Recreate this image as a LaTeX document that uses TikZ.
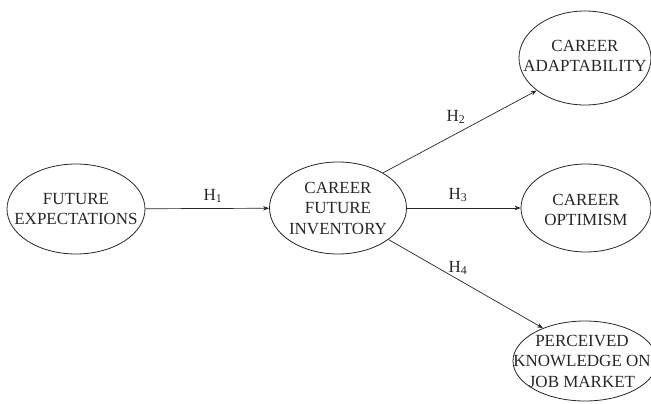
\documentclass[tikz,border=0pt]{standalone}
\usepackage{fontspec}
\setmainfont{Liberation Serif}
\usetikzlibrary{shapes.geometric,arrows.meta}
\begin{document}
\begin{tikzpicture}[x=1pt,y=-1pt,
  ell/.style={draw=black!85, ellipse, inner sep=0pt, line width=0.8pt},
  txt/.style={align=center, inner sep=0pt, font=\fontsize{17}{20.5}\selectfont, text=black!85},
  arr/.style={-{Stealth[length=6pt,width=4.5pt]}, line width=0.7pt, draw=black!85},
  hlab/.style={inner sep=0pt, font=\fontsize{17}{20}\selectfont, text=black!85}]
\useasboundingbox (0,0) rectangle (651,404);
\node[ell, minimum width=138pt, minimum height=90pt] (fe) at (76,209) {};
\node[txt] (fet) at (fe) {FUTURE\\EXPECTATIONS};
\node[ell, minimum width=137pt, minimum height=92pt] (cfi) at (338,208) {};
\node[txt] (cfit) at (cfi) {CAREER\\FUTURE\\INVENTORY};
\node[ell, minimum width=132pt, minimum height=94pt] (ca) at (585,58) {};
\node[txt] (cat) at (585,56) {CAREER\\ADAPTABILITY};
\node[ell, minimum width=130pt, minimum height=88pt] (co) at (586,208) {};
\node[txt] (cot) at (586,210) {CAREER\\OPTIMISM};
\node[ell, minimum width=144pt, minimum height=80pt] (pk) at (585,361) {};
\node[txt] (pkt) at (582,361) {PERCEIVED\\KNOWLEDGE ON\\JOB MARKET};
\draw[arr] (fe) -- (cfi);
\draw[arr] (cfi) -- (co);
\draw[arr] (cfi.38) -- (ca.214);
\draw[arr] (cfi.-32) -- (pk.142);
\node[hlab] (h1) at (213,196) {H\textsubscript{1}};
\node[hlab] (h2) at (456,117) {H\textsubscript{2}};
\node[hlab] (h3) at (458,195) {H\textsubscript{3}};
\node[hlab] (h4) at (458,268) {H\textsubscript{4}};
\end{tikzpicture}
\end{document}
